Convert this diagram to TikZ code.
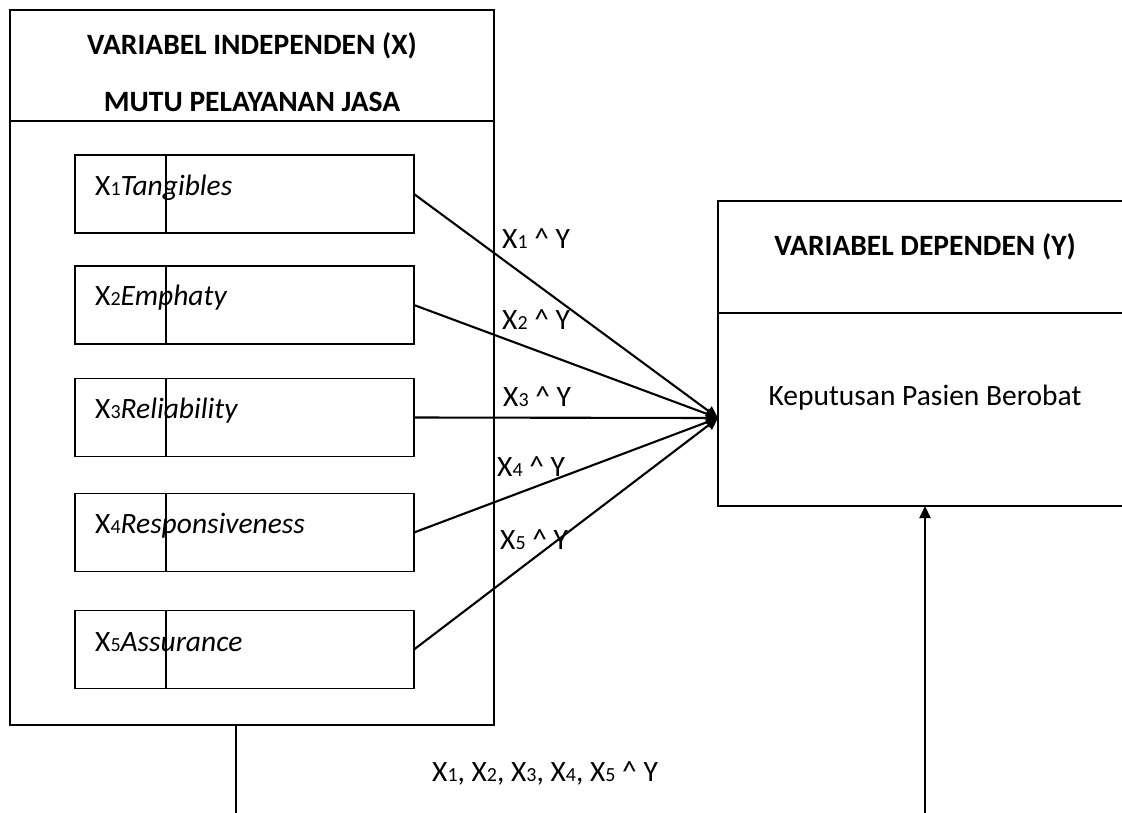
\documentclass[tikz,border=0pt]{standalone}
\usepackage{fontspec}
\setmainfont{Carlito}
\usetikzlibrary{arrows.meta}
\newcommand{\sbd}[1]{{\fontsize{20}{20}\selectfont #1}}
\begin{document}
\begin{tikzpicture}[x=1pt,y=-1pt,
  boxline/.style={draw, line width=1.6pt},
  frame/.style={boxline, inner sep=0, outer sep=0},
  item/.style={frame, minimum width=339pt, minimum height=78pt},
  conn/.style={line width=2.1pt, -{Triangle[length=12pt,width=11pt]}},
  txt/.style={font=\fontsize{29.5}{35}\selectfont, inner sep=0},
  lbl/.style={txt, anchor=west},
  head/.style={txt, font=\fontsize{29.5}{35}\selectfont\bfseries}]
\useasboundingbox (0,0) rectangle (1122,812);
\clip (0,0) rectangle (1122,812);
% left box
\node[frame, minimum width=484pt, minimum height=715pt] (X) at (252,367.5) {};
\draw[line width=1.6pt] (10,121) -- (494,121);
\node[head] (hx1) at (252,46) {VARIABEL INDEPENDEN (X)};
\node[head] (hx2) at (252,102) {MUTU PELAYANAN JASA};
% items
\foreach \i/\cy in {1/194,2/305,3/417.5,4/532.5,5/649.5}{
  \node[item] (b\i) at (244.5,\cy) {};
  \draw[line width=1.6pt] (166,\cy-39) -- (166,\cy+39);
}
\node[lbl] (t1) at (95,188) {X\sbd{1}\textit{Tangibles}};
\node[lbl] (t2) at (95,298) {X\sbd{2}\textit{Emphaty}};
\node[lbl] (t3) at (95,411) {X\sbd{3}\textit{Reliability}};
\node[lbl] (t4) at (95,526) {X\sbd{4}\textit{Responsiveness}};
\node[lbl] (t5) at (95,642) {X\sbd{5}\textit{Assurance}};
% right box
\node[frame, minimum width=414pt, minimum height=305pt] (Y) at (925,353.5) {};
\draw[line width=1.6pt] (718,313) -- (1132,313);
\node[head] (hy) at (925,247) {VARIABEL DEPENDEN (Y)};
\node[txt] (ky) at (925,398) {Keputusan Pasien Berobat};
% arrows
\coordinate (tgt) at (718,418);
\foreach \i in {1,...,5}{
  \draw[conn] (b\i.east) -- (tgt);
}
\node[lbl] (l1) at (502,239) {X\sbd{1} \textasciicircum{} Y};
\node[lbl] (l2) at (502,320) {X\sbd{2} \textasciicircum{} Y};
\node[lbl] (l3) at (503,397) {X\sbd{3} \textasciicircum{} Y};
\node[lbl] (l4) at (497,467) {X\sbd{4} \textasciicircum{} Y};
\node[lbl] (l5) at (500,540) {X\sbd{5} \textasciicircum{} Y};
% bottom connector
\coordinate (bl) at (236,815);
\coordinate (br) at (925,815);
\draw[line width=1.8pt] ([xshift=-16pt]X.south) -- (bl);
\draw[conn] (br) -- (Y.south);
\node[lbl] (lall) at (432,773) {X\sbd{1}, X\sbd{2}, X\sbd{3}, X\sbd{4}, X\sbd{5} \textasciicircum{} Y};
\end{tikzpicture}
\end{document}
